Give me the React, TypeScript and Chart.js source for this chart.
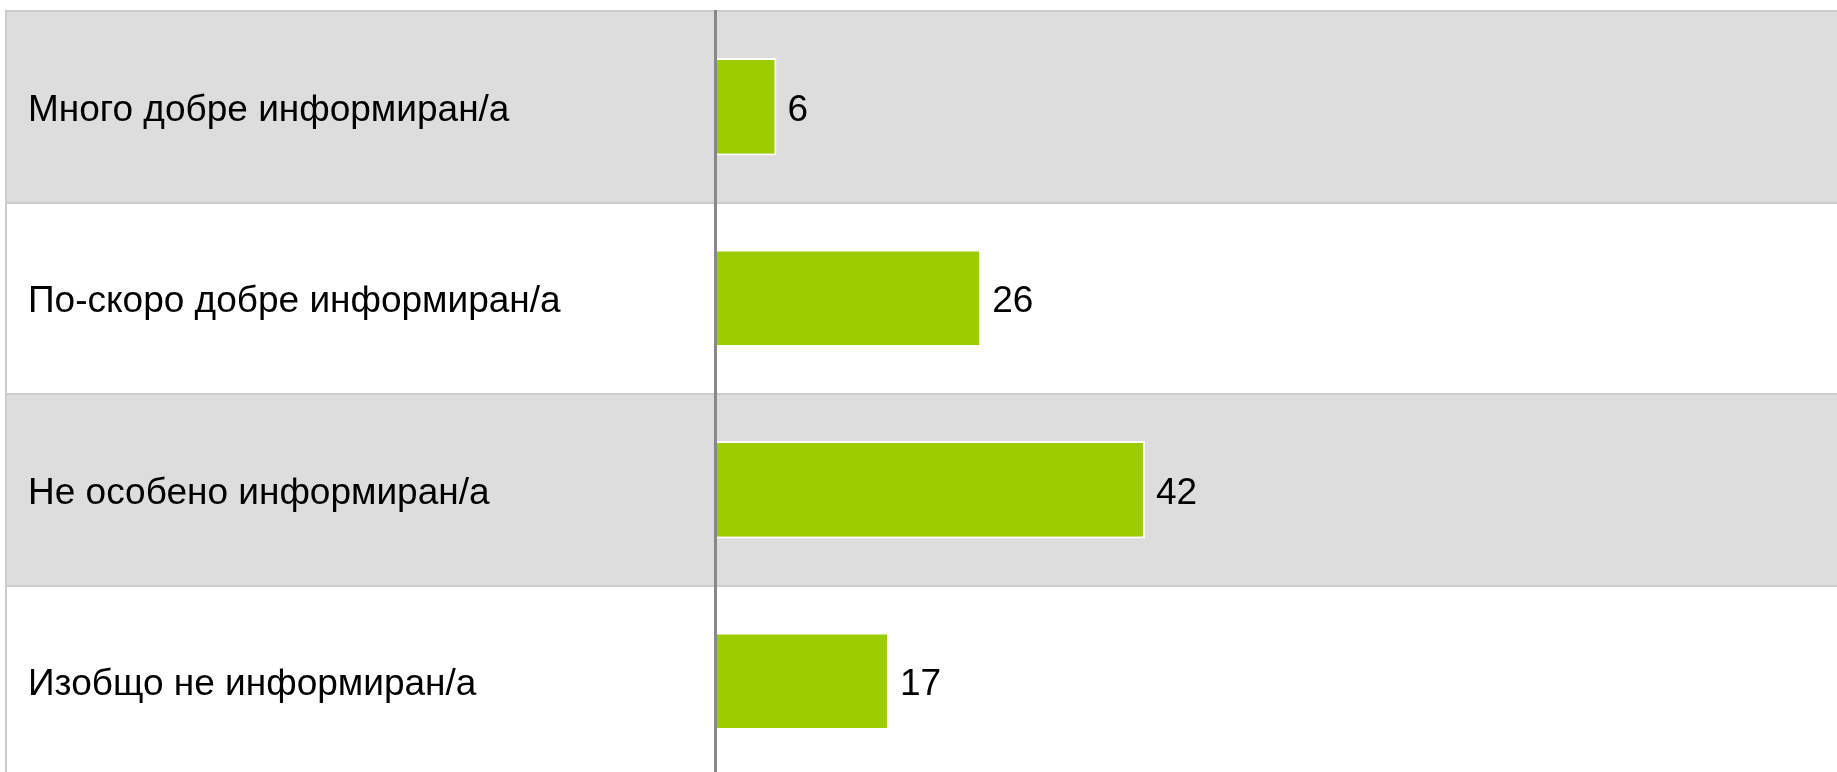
import { useEffect, useRef } from "react";
import { Chart, registerables } from "chart.js";

Chart.register(...registerables);

const categories = [
  "Много добре информиран/а",
  "По-скоро добре информиран/а",
  "Не особено информиран/а",
  "Изобщо не информиран/а",
];
const values = [6, 26, 42, 17];
const xMin = 0;
const xMax = 109.6;

const FONT = "'Liberation Sans', Arial, sans-serif";

const bandPlugin = {
  id: "bands",
  beforeDraw(chart: any) {
    const { ctx, chartArea, scales } = chart;
    const y = scales.y;
    const left = 6;
    const right = chart.width;
    const step = y.getPixelForValue(1) - y.getPixelForValue(0);
    ctx.save();
    categories.forEach((_, i) => {
      const c = y.getPixelForValue(i);
      ctx.fillStyle = i % 2 === 0 ? "#dddddd" : "#ffffff";
      ctx.fillRect(left, c - step / 2, right - left, step);
    });
    ctx.fillStyle = "#cccccc";
    for (let i = 0; i <= categories.length; i++) {
      const yy = y.getPixelForValue(0) - step / 2 + i * step;
      ctx.fillRect(left, Math.round(yy) - 1, right - left, 2);
    }
    ctx.fillRect(5, chartArea.top - 1, 2, chartArea.bottom - chartArea.top + 2);
    ctx.restore();
  },
};

const valuePlugin = {
  id: "values",
  afterDatasetsDraw(chart: any) {
    const { ctx } = chart;
    const meta = chart.getDatasetMeta(0);
    ctx.save();
    ctx.font = `37px ${FONT}`;
    ctx.fillStyle = "#000000";
    ctx.textAlign = "left";
    ctx.textBaseline = "middle";
    meta.data.forEach((bar: any, i: number) => {
      ctx.fillText(String(values[i]), bar.x + 11, bar.y + 4);
    });
    ctx.restore();
  },
};

export default function App() {
  const ref = useRef<HTMLCanvasElement>(null);
  useEffect(() => {
    if (!ref.current) return;
    const chart = new Chart(ref.current, {
      type: "bar",
      data: {
        labels: categories,
        datasets: [
          {
            data: values,
            backgroundColor: "#9ccc00",
            borderColor: "#ffffff",
            borderWidth: 2,
            borderSkipped: "start",
            categoryPercentage: 1,
            barPercentage: 0.51,
          },
        ],
      },
      plugins: [bandPlugin, valuePlugin],
      options: {
        indexAxis: "y",
        animation: false,
        responsive: false,
        maintainAspectRatio: false,
        devicePixelRatio: 1,
        layout: { padding: { left: 28, top: 11, right: 0, bottom: 3 } },
        plugins: { legend: { display: false }, tooltip: { enabled: false } },
        scales: {
          x: { display: false, min: xMin, max: xMax },
          y: {
            position: "left",
            grid: { display: false },
            border: { display: true, color: "#888888", width: 3, z: 1 },
            ticks: {
              crossAlign: "far",
              padding: 0,
              labelOffset: 4,
              color: "#000000",
              font: { size: 37, family: FONT },
            },
            afterFit: (s: any) => {
              s.width = 715 - 28;
              s.paddingTop = 0;
              s.paddingBottom = 0;
            },
          },
        },
      } as any,
    });
    return () => chart.destroy();
  }, []);
  return (
    <div
      style={{
        position: "absolute",
        left: 0,
        top: 0,
        width: 1837,
        height: 772,
        overflow: "hidden",
        background: "#ffffff",
      }}
    >
      <canvas ref={ref} width={1837} height={780} style={{ width: 1837, height: 780, display: "block" }} />
    </div>
  );
}
